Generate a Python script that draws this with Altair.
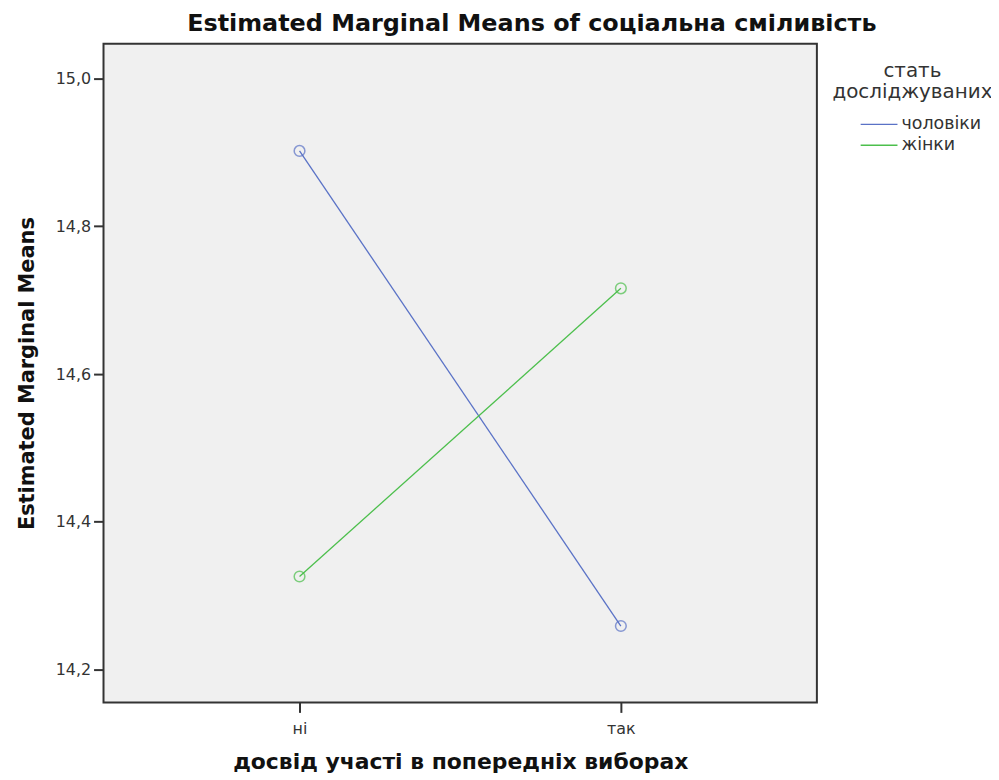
import altair as alt
import pandas as pd

categories = ["ні", "так"]
groups = ["чоловіки", "жінки"]
men_values = [14.902, 14.259]
women_values = [14.326, 14.716]
colors = ["#5a72c6", "#4cbf4c"]

rows = []
for c, v in zip(categories, men_values):
    rows.append({"exp": c, "sex": groups[0], "mean": v})
for c, v in zip(categories, women_values):
    rows.append({"exp": c, "sex": groups[1], "mean": v})
df = pd.DataFrame(rows)

font = "DejaVu Sans"

x = alt.X("exp:N", sort=categories, scale=alt.Scale(type="point", padding=0.61),
          axis=alt.Axis(title="досвід участі в попередніх виборах", labelAngle=0,
                        tickSize=10, tickColor="#333", tickWidth=2, labelPadding=8,
                        labelFontSize=16, labelFont=font, labelColor="#333",
                        titleFontSize=22, titleFont=font, titleFontWeight="bold",
                        titlePadding=15, titleColor="#111", domain=False, grid=False))
y = alt.Y("mean:Q", scale=alt.Scale(domain=[14.1556, 15.047], nice=False, zero=False),
          axis=alt.Axis(title="Estimated Marginal Means", values=[14.2, 14.4, 14.6, 14.8, 15.0],
                        labelExpr="replace(format(datum.value, '.1f'), '.', ',')",
                        tickSize=10, tickColor="#333", tickWidth=2, labelPadding=3,
                        labelFontSize=16, labelFont=font, labelColor="#333",
                        titleFontSize=21, titleFont=font, titleFontWeight="bold",
                        titlePadding=18, titleColor="#111", domain=False, grid=False))
color = alt.Color("sex:N", sort=groups, scale=alt.Scale(domain=groups, range=colors),
                  legend=alt.Legend(title=["стать", "досліджуваних"], orient="none",
                                    legendX=732, legendY=17, titleAnchor="middle",
                                    titleAlign="center", titleFontSize=20,
                                    titleFontWeight="normal", titleFont=font, titleColor="#333",
                                    titleLimit=400, labelLimit=300, symbolType="stroke",
                                    symbolStrokeWidth=1.5, symbolSize=1369, symbolOffset=17,
                                    clipHeight=16, labelFontSize=17.5, labelFont=font,
                                    labelColor="#333", rowPadding=3, titlePadding=14,
                                    labelOffset=3))

base = alt.Chart(df)
lines = base.mark_line(strokeWidth=1.3).encode(x=x, y=y, color=color)
points = base.mark_point(shape="circle", filled=False, size=115, strokeWidth=1.5).encode(
    x=x, y=y, color=alt.Color("sex:N", sort=groups, scale=alt.Scale(domain=groups, range=colors), legend=None))

chart = alt.layer(lines, points).properties(
    width=717, height=662,
    autosize=alt.AutoSizeParams(type="none"),
    padding={"left": 96, "top": 34, "right": 175, "bottom": 76},
    title=alt.TitleParams("Estimated Marginal Means of соціальна сміливість", fontSize=24,
                          font=font, fontWeight="bold", color="#111", anchor="middle",
                          dx=72, offset=8),
).configure(background="white").configure_view(fill="#f0f0f0", stroke="#333333", strokeWidth=2)

chart.save("out.html", embed_options={"renderer": "svg", "actions": False})
